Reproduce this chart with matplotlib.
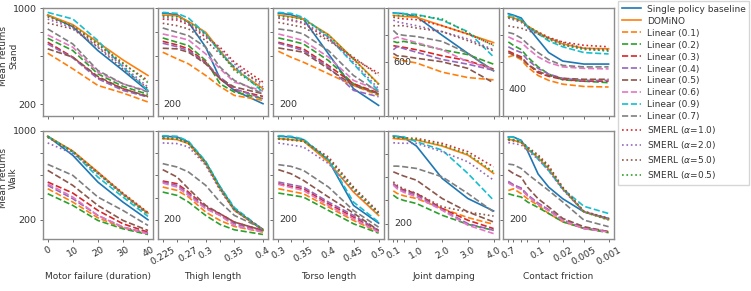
import matplotlib
matplotlib.use("Agg")
import matplotlib.pyplot as plt
import matplotlib.transforms as mtransforms

plt.rcParams['font.family'] = ['DejaVu Sans']
plt.rcParams['font.size'] = 6.5
plt.rcParams['text.color'] = '#333333'
plt.rcParams['axes.labelcolor'] = '#333333'
plt.rcParams['xtick.color'] = '#555555'
plt.rcParams['ytick.color'] = '#555555'
plt.rcParams['xtick.labelcolor'] = '#333333'
plt.rcParams['ytick.labelcolor'] = '#333333'

names = ['Single policy baseline', 'DOMiNO', 'Linear (0.1)', 'Linear (0.2)', 'Linear (0.3)',
         'Linear (0.4)', 'Linear (0.5)', 'Linear (0.6)', 'Linear (0.9)', 'Linear (0.7)',
         r'SMERL ($\alpha$=1.0)', r'SMERL ($\alpha$=2.0)', r'SMERL ($\alpha$=5.0)', r'SMERL ($\alpha$=0.5)']
colors = ['C0', 'C1', 'C1', 'C2', 'C3', 'C4', 'C5', 'C6', 'C9', 'C7', 'C3', 'C4', 'C5', 'C2']
styles = ['-', '-'] + ['--'] * 8 + [':'] * 4

# x values per perturbation
motor_x = [0, 10, 20, 30, 40]
motor_labels = ['0', '10', '20', '30', '40']
thigh_x = [0.225, 0.25, 0.27, 0.3, 0.325, 0.35, 0.4]
thigh_labels = ['0.225', '', '0.27', '0.3', '', '0.35', '0.4']
torso_x = [0.3, 0.325, 0.35, 0.4, 0.45, 0.5]
torso_labels = ['0.3', '', '0.35', '0.4', '0.45', '0.5']
damping_x = [0.1, 0.25, 0.5, 1.0, 2.0, 3.0, 4.0]
damping_labels = ['0.1', '', '', '1.0', '2.0', '3.0', '4.0']
friction_x = [0.7, 0.5, 0.3, 0.2, 0.1, 0.05, 0.02, 0.005, 0.001]
friction_labels = ['0.7', '', '', '', '0.1', '', '0.02', '0.005', '0.001']

# mean returns, rows in the order of `names`
stand_motor = [
    [944, 847, 648, 482, 310],
    [944, 864, 717, 570, 440],
    [626, 496, 357, 294, 219],
    [750, 648, 454, 349, 283],
    [717, 593, 421, 330, 261],
    [703, 587, 413, 316, 261],
    [662, 593, 432, 330, 266],
    [778, 676, 468, 371, 310],
    [966, 911, 731, 510, 316],
    [828, 703, 482, 371, 302],
    [930, 847, 698, 537, 399],
    [910, 836, 680, 520, 343],
    [877, 828, 675, 495, 330],
    [935, 855, 705, 545, 380],
]
stand_thigh = [
    [960, 947, 883, 676, 413, 316, 205],
    [944, 938, 891, 800, 648, 496, 330],
    [634, 579, 537, 440, 349, 274, 233],
    [753, 717, 689, 565, 371, 302, 247],
    [725, 695, 662, 551, 413, 322, 266],
    [709, 680, 648, 543, 427, 330, 247],
    [667, 662, 634, 537, 413, 344, 288],
    [786, 760, 736, 620, 496, 385, 310],
    [966, 958, 919, 786, 634, 510, 302],
    [836, 800, 772, 676, 510, 399, 288],
    [910, 902, 864, 759, 676, 551, 385],
    [924, 915, 875, 772, 662, 537, 344],
    [875, 855, 828, 731, 620, 510, 371],
    [935, 930, 885, 786, 640, 482, 322],
]
stand_torso = [
    [960, 947, 911, 620, 330, 191],
    [944, 930, 911, 781, 579, 371],
    [642, 593, 551, 454, 357, 274],
    [753, 730, 703, 565, 371, 283],
    [717, 690, 662, 523, 371, 294],
    [709, 680, 648, 510, 316, 263],
    [670, 652, 634, 496, 357, 288],
    [786, 760, 731, 593, 399, 316],
    [966, 958, 924, 759, 537, 310],
    [828, 814, 786, 648, 440, 302],
    [919, 900, 875, 745, 579, 460],
    [924, 905, 883, 759, 551, 330],
    [883, 862, 842, 731, 593, 440],
    [935, 925, 905, 776, 575, 365],
]
stand_damping = [
    [966, 963, 961, 938, 800, 666, 537],
    [948, 945, 940, 934, 871, 809, 746],
    [639, 627, 612, 595, 527, 487, 470],
    [755, 746, 755, 737, 693, 657, 586],
    [723, 718, 711, 693, 648, 612, 550],
    [693, 716, 702, 675, 621, 586, 541],
    [666, 648, 645, 630, 604, 555, 448],
    [773, 787, 773, 746, 693, 604, 550],
    [966, 962, 960, 955, 912, 827, 640],
    [836, 809, 800, 791, 755, 666, 537],
    [934, 928, 922, 916, 871, 809, 729],
    [912, 900, 890, 871, 827, 773, 693],
    [871, 871, 871, 854, 827, 760, 685],
    [943, 945, 946, 948, 921, 818, 723],
]
stand_friction = [
    [960, 949, 928, 864, 768, 672, 609, 587, 587],
    [938, 930, 906, 870, 821, 779, 736, 704, 700],
    [640, 651, 619, 566, 502, 466, 438, 421, 417],
    [751, 725, 694, 640, 566, 513, 470, 460, 449],
    [683, 665, 640, 587, 523, 496, 474, 460, 460],
    [715, 695, 672, 619, 555, 513, 481, 466, 466],
    [672, 655, 630, 587, 534, 502, 481, 474, 474],
    [789, 770, 747, 704, 640, 598, 566, 555, 551],
    [949, 943, 917, 864, 811, 758, 715, 672, 662],
    [821, 811, 779, 736, 672, 619, 577, 566, 566],
    [928, 920, 900, 865, 825, 785, 750, 726, 715],
    [928, 915, 896, 855, 811, 770, 726, 700, 683],
    [870, 862, 853, 835, 811, 779, 747, 704, 694],
    [935, 925, 905, 868, 818, 772, 730, 695, 687],
]
walk_motor = [
    [950, 779, 539, 359, 200],
    [950, 818, 629, 434, 260],
    [479, 359, 218, 128, 74],
    [434, 329, 194, 119, 68],
    [539, 440, 284, 164, 89],
    [509, 389, 239, 134, 80],
    [644, 509, 329, 194, 104],
    [524, 404, 239, 134, 74],
    [950, 809, 584, 404, 230],
    [698, 599, 404, 284, 149],
    [945, 815, 625, 440, 265],
    [890, 794, 614, 428, 248],
    [940, 810, 620, 430, 255],
    [948, 812, 615, 425, 250],
]
walk_thigh = [
    [950, 944, 899, 719, 494, 299, 104],
    [929, 920, 884, 704, 479, 284, 110],
    [494, 464, 404, 269, 194, 140, 89],
    [449, 419, 359, 239, 158, 110, 68],
    [548, 524, 449, 314, 254, 179, 104],
    [539, 509, 434, 308, 240, 165, 95],
    [650, 584, 479, 329, 254, 179, 104],
    [530, 494, 419, 299, 239, 149, 89],
    [955, 950, 905, 725, 500, 310, 110],
    [704, 674, 629, 509, 359, 239, 119],
    [935, 930, 890, 710, 485, 290, 115],
    [890, 884, 854, 689, 464, 284, 110],
    [930, 925, 885, 705, 480, 288, 112],
    [935, 928, 888, 712, 486, 292, 108],
]
walk_torso = [
    [950, 944, 920, 734, 329, 170],
    [929, 920, 908, 719, 449, 239],
    [479, 456, 434, 314, 194, 89],
    [440, 422, 404, 284, 164, 80],
    [524, 500, 479, 344, 224, 98],
    [539, 516, 494, 359, 239, 104],
    [650, 614, 554, 404, 260, 104],
    [518, 490, 464, 329, 209, 89],
    [955, 950, 925, 740, 359, 179],
    [695, 680, 644, 494, 284, 134],
    [929, 920, 908, 764, 494, 269],
    [890, 872, 854, 704, 464, 248],
    [925, 915, 905, 750, 485, 262],
    [932, 922, 910, 740, 479, 254],
]
walk_damping = [
    [954, 950, 943, 868, 589, 416, 309],
    [934, 930, 925, 920, 868, 790, 632],
    [482, 460, 440, 416, 330, 252, 194],
    [445, 420, 400, 373, 272, 194, 142],
    [545, 515, 490, 459, 330, 229, 157],
    [540, 510, 480, 445, 321, 200, 142],
    [646, 632, 610, 574, 416, 301, 214],
    [531, 500, 470, 430, 315, 186, 114],
    [954, 951, 948, 905, 833, 632, 401],
    [695, 695, 690, 675, 603, 459, 301],
    [943, 940, 937, 934, 891, 819, 689],
    [896, 893, 892, 891, 819, 732, 574],
    [560, 530, 500, 460, 345, 300, 265],
    [948, 940, 935, 925, 876, 799, 646],
]
walk_friction = [
    [943, 943, 913, 819, 611, 493, 389, 271, 212],
    [922, 915, 893, 833, 759, 656, 478, 271, 203],
    [463, 478, 434, 389, 330, 256, 182, 123, 93],
    [434, 420, 404, 360, 310, 256, 182, 123, 84],
    [537, 510, 478, 419, 345, 286, 197, 123, 93],
    [545, 515, 485, 425, 350, 290, 200, 126, 95],
    [647, 615, 582, 493, 389, 315, 212, 138, 93],
    [530, 505, 472, 415, 340, 282, 194, 120, 90],
    [943, 940, 907, 848, 745, 641, 478, 321, 256],
    [700, 694, 660, 611, 537, 463, 360, 197, 138],
    [922, 915, 901, 854, 783, 685, 493, 277, 212],
    [893, 885, 872, 819, 745, 641, 469, 271, 205],
    [915, 908, 895, 845, 772, 672, 486, 274, 208],
    [925, 918, 898, 840, 770, 665, 480, 270, 197],
]

columns = [
    ('Motor failure (duration)', motor_x, motor_labels, stand_motor, walk_motor),
    ('Thigh length', thigh_x, thigh_labels, stand_thigh, walk_thigh),
    ('Torso length', torso_x, torso_labels, stand_torso, walk_torso),
    ('Joint damping', damping_x, damping_labels, stand_damping, walk_damping),
    ('Contact friction', friction_x, friction_labels, stand_friction, walk_friction),
]
row_names = ['Stand', 'Walk']
ylims = [[100, 100, 100, 420, 305], [30, 30, 30, 70, 30]]
yticks = [200, 400, 600, 800, 1000]

W, H = 751, 291
fig = plt.figure(figsize=(W / 100, H / 100), dpi=100)
lefts = [42.7, 157.7, 273.3, 388.3, 503.3]
tops = [8.3, 130.7]
aw, ah = 110.3, 108.0

handles = []
for r in range(2):
    for c, (xlabel, xs, xlabs, stand, walk) in enumerate(columns):
        ax = fig.add_axes([lefts[c] / W, 1 - (tops[r] + ah) / H, aw / W, ah / H])
        data = stand if r == 0 else walk
        for i, ys in enumerate(data):
            ln, = ax.plot(xs, ys, linestyle=styles[i], color=colors[i], lw=1.2)
            if r == 0 and c == 0:
                handles.append(ln)
        if c == 4:
            ax.set_xscale('log')
            ax.invert_xaxis()
        ax.set_xticks(xs)
        ax.minorticks_off()
        if r == 1:
            ax.set_xticklabels(xlabs, rotation=30)
            ax.set_xlabel(xlabel)
            ax.xaxis.set_label_coords(0.5, -0.31)
        else:
            ax.set_xticklabels([])
        lo = ylims[r][c]
        ax.set_ylim(lo, 1000)
        ax.set_yticks(yticks)
        if c == 0:
            ax.set_yticklabels(['200', '', '', '', '1000'])
            ax.set_ylabel('Mean returns\n' + row_names[r], linespacing=1.1)
            ax.yaxis.set_label_coords(-0.225, 0.56)
        else:
            ax.set_yticklabels([])
            first = min(t for t in yticks if t >= lo)
            tr = mtransforms.blended_transform_factory(ax.transAxes, ax.transData)
            ax.text(0.05, first, str(first), transform=tr, ha='left', va='center', fontsize=6.8)
        ax.tick_params(length=2.5, width=0.6, pad=2, labelsize=6.8)
        for sp in ax.spines.values():
            sp.set_color('#8c8c8c')
            sp.set_linewidth(1.0)

leg = fig.legend(handles, names, loc='upper left', bbox_to_anchor=(618 / W, 1 - 1 / H),
                 borderaxespad=0, fontsize=6.5, labelspacing=0.33, handlelength=2.2,
                 handletextpad=0.6, borderpad=0.4, fancybox=False, edgecolor='#cccccc')

fig.savefig('out.png', dpi=100)
